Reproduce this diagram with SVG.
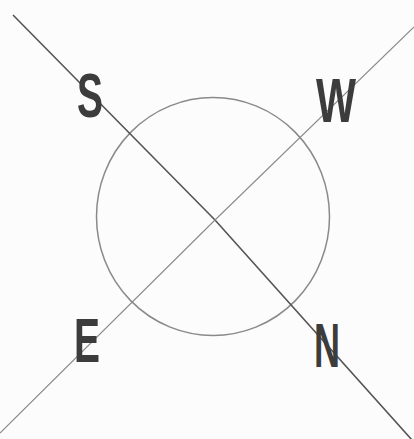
<svg xmlns="http://www.w3.org/2000/svg" width="414" height="439" viewBox="0 0 414 439">
  <style>
    .lbl { font-family: "Liberation Sans", Arial, sans-serif; font-size: 63px; font-weight: bold; fill: #3c3c3c; }
    .ring { fill: none; stroke: #8a8a8a; stroke-width: 1.5; }
    .axis1 { fill: none; stroke: #555; stroke-width: 1.6; }
    .axis2 { fill: none; stroke: #8a8a8a; stroke-width: 1.1; }
  </style>
  <rect width="414" height="439" fill="#fcfcfc"/>
  <g id="circle">
    <ellipse class="ring" cx="213" cy="216.5" rx="116.5" ry="119"/>
  </g>
  <g id="connectors">
    <polyline class="axis1" points="13,15 215,220 412,440"/>
    <polyline class="axis2" points="414,27 215,220 0,433"/>
  </g>
  <g id="S"><text class="lbl" x="77" y="117" textLength="26" lengthAdjust="spacingAndGlyphs">S</text></g>
  <g id="W"><text class="lbl" x="316" y="122" textLength="40" lengthAdjust="spacingAndGlyphs">W</text></g>
  <g id="E"><text class="lbl" x="74" y="362" textLength="26" lengthAdjust="spacingAndGlyphs">E</text></g>
  <g id="N"><text class="lbl" x="314" y="367" textLength="26" lengthAdjust="spacingAndGlyphs">N</text></g>
</svg>
